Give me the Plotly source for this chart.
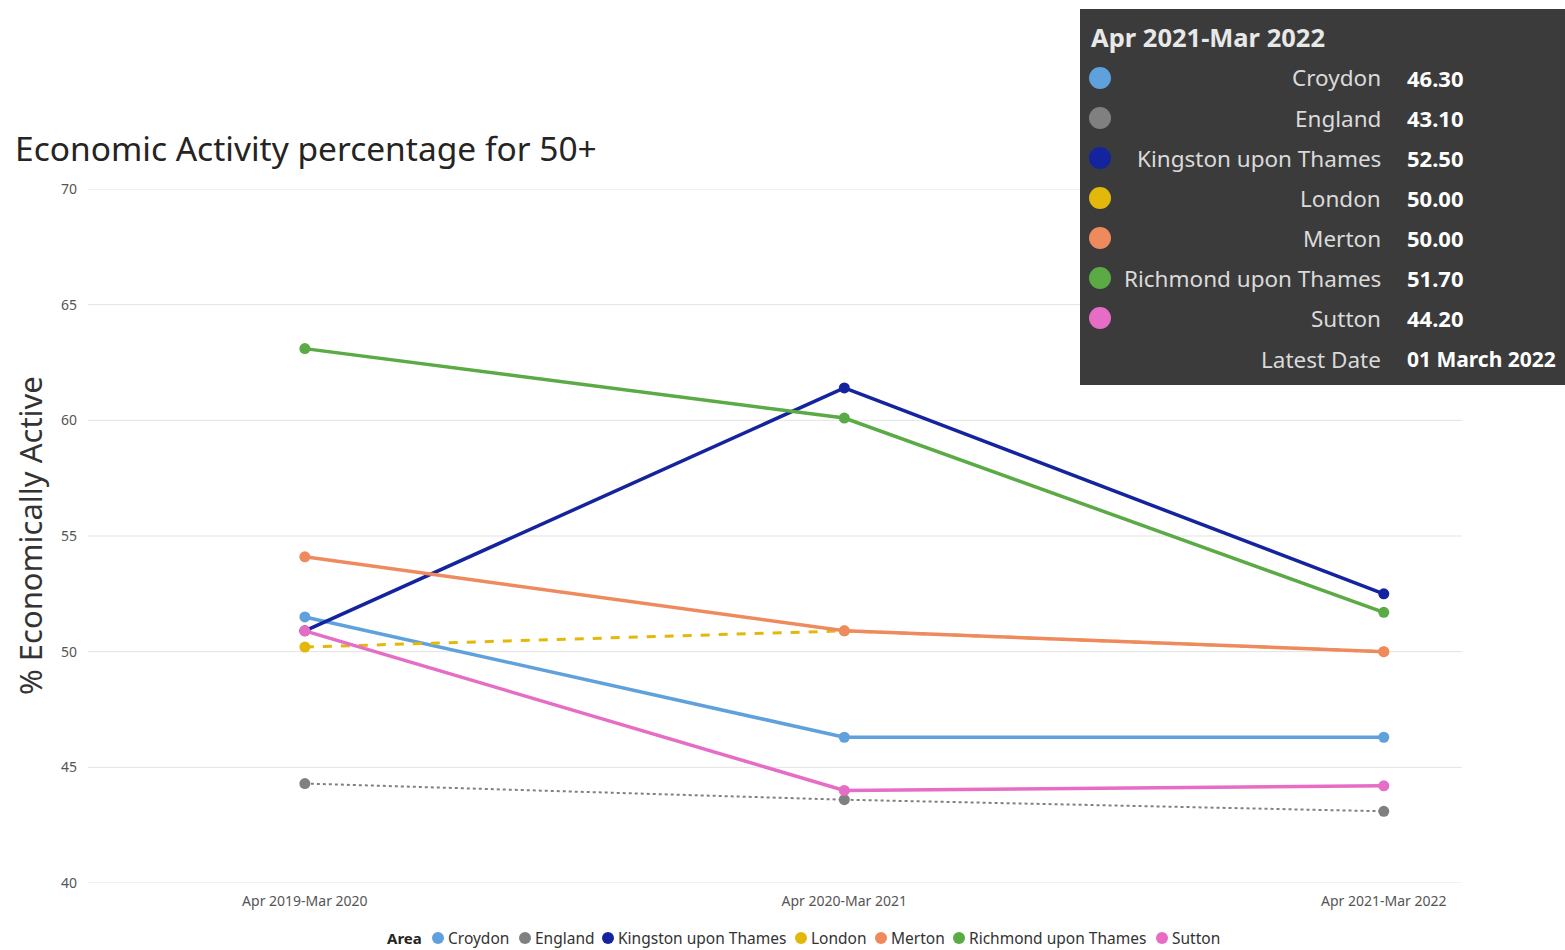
import plotly.graph_objects as go

# ---- data -------------------------------------------------------------
periods = ["Apr 2019-Mar 2020", "Apr 2020-Mar 2021", "Apr 2021-Mar 2022"]
areas = ["Croydon", "England", "Kingston upon Thames", "London",
         "Merton", "Richmond upon Thames", "Sutton"]
croydon = [51.5, 46.3, 46.3]
england = [44.3, 43.6, 43.1]
kingston = [50.9, 61.4, 52.5]
london = [50.2, 50.9, 50.0]
merton = [54.1, 50.9, 50.0]
richmond = [63.1, 60.1, 51.7]
sutton = [50.9, 44.0, 44.2]
latest_date = "01 March 2022"
y_ticks = [40, 45, 50, 55, 60, 65, 70]

series = [croydon, england, kingston, london, merton, richmond, sutton]

# ---- styling ----------------------------------------------------------
colors = ["#5FA1DC", "#808080", "#14239E", "#E2B80B",
          "#EF8A5E", "#5AAA45", "#E66CC6"]
dashes = ["solid", "dot", "solid", "dash", "solid", "solid", "solid"]
widths = [3.5, 2, 3.5, 3, 3.5, 3.5, 3.5]
FONT = "Segoe UI, Noto Sans, sans-serif"

W, H = 1565, 950
L, R, T, B = 88, 1462, 189, 883   # plot area in pixels


def px_x(px):
    return (px - L) / (R - L)


def px_y(py):
    return (B - py) / (B - T)


fig = go.Figure()
for name, vals, col, dsh, wd in zip(areas, series, colors, dashes, widths):
    fig.add_trace(go.Scatter(
        x=periods, y=vals, name=name, mode="lines+markers",
        line=dict(color=col, width=wd, dash=dsh),
        marker=dict(color=col, size=11),
        showlegend=False,
    ))

shapes = []
annotations = []

# horizontal gridlines at each y tick (including both ends of the range)
for v in y_ticks:
    shapes.append(dict(
        type="line", xref="paper", yref="y", x0=0, x1=1, y0=v, y1=v,
        line=dict(color="#E3E3E3", width=1), layer="below"))

# chart title
annotations.append(dict(
    text="Economic Activity percentage for 50+", xref="paper", yref="paper",
    x=px_x(13), y=px_y(148), xanchor="left", yanchor="middle",
    showarrow=False, font=dict(family=FONT, size=33.5, color="#252423")))

# y-axis title
annotations.append(dict(
    text="% Economically Active", xref="paper", yref="paper",
    x=px_x(30), y=px_y(536), xanchor="center", yanchor="middle",
    textangle=-90, showarrow=False,
    font=dict(family=FONT, size=31, color="#333333")))

# bottom legend
LEG_Y = 938
annotations.append(dict(
    text="<b>Area</b>", xref="paper", yref="paper",
    x=px_x(385), y=px_y(LEG_Y), xanchor="left", yanchor="middle",
    showarrow=False, font=dict(family=FONT, size=15, color="#252423")))
legend_x = [438, 525, 608, 801, 881, 959, 1162]
for name, col, lx in zip(areas, colors, legend_x):
    shapes.append(dict(
        type="circle", xref="paper", yref="paper",
        xsizemode="pixel", ysizemode="pixel",
        xanchor=px_x(lx), yanchor=px_y(LEG_Y),
        x0=-6, x1=6, y0=-6, y1=6,
        fillcolor=col, line=dict(width=0)))
    annotations.append(dict(
        text=name, xref="paper", yref="paper",
        x=px_x(lx + 8), y=px_y(LEG_Y), xanchor="left", yanchor="middle",
        showarrow=False, font=dict(family=FONT, size=15.5, color="#333333")))

# hover card for the latest period
shapes.append(dict(
    type="rect", xref="paper", yref="paper",
    x0=px_x(1080), x1=px_x(1565), y0=px_y(385), y1=px_y(9),
    fillcolor="#3B3B3B", line=dict(width=0), layer="above"))
annotations.append(dict(
    text="<b>" + periods[-1] + "</b>", xref="paper", yref="paper",
    x=px_x(1089), y=px_y(37), xanchor="left", yanchor="middle",
    showarrow=False, font=dict(family=FONT, size=25.5, color="#E8E8E8")))
row_y = [78, 118, 158, 198, 238, 278, 318]
for name, vals, col, ry in zip(areas, series, colors, row_y):
    shapes.append(dict(
        type="circle", xref="paper", yref="paper",
        xsizemode="pixel", ysizemode="pixel",
        xanchor=px_x(1100), yanchor=px_y(ry),
        x0=-11, x1=11, y0=-11, y1=11,
        fillcolor=col, line=dict(width=0), layer="above"))
    annotations.append(dict(
        text=name, xref="paper", yref="paper",
        x=px_x(1383), y=px_y(ry), xanchor="right", yanchor="middle",
        showarrow=False, font=dict(family=FONT, size=22.5, color="#DADADA")))
    annotations.append(dict(
        text="<b>%.2f</b>" % vals[-1], xref="paper", yref="paper",
        x=px_x(1405), y=px_y(ry), xanchor="left", yanchor="middle",
        showarrow=False, font=dict(family=FONT, size=22, color="#FFFFFF")))
annotations.append(dict(
    text="Latest Date", xref="paper", yref="paper",
    x=px_x(1383), y=px_y(359), xanchor="right", yanchor="middle",
    showarrow=False, font=dict(family=FONT, size=22.5, color="#DADADA")))
annotations.append(dict(
    text="<b>" + latest_date + "</b>", xref="paper", yref="paper",
    x=px_x(1405), y=px_y(359), xanchor="left", yanchor="middle",
    showarrow=False, font=dict(family=FONT, size=21, color="#FFFFFF")))

fig.update_layout(
    width=W, height=H, autosize=False,
    margin=dict(l=L, r=W - R, t=T, b=H - B, pad=0),
    paper_bgcolor="white", plot_bgcolor="white",
    shapes=shapes, annotations=annotations,
    font=dict(family=FONT),
)
fig.update_xaxes(
    type="category", range=[-0.402, 2.145],
    showgrid=False, showline=False, zeroline=False, ticks="",
    ticklabelstandoff=8,
    tickfont=dict(family=FONT, size=14, color="#555555"),
)
fig.update_yaxes(
    range=[40, 70], tickvals=y_ticks, ticktext=[str(v) for v in y_ticks],
    showgrid=False, showline=False, zeroline=False, ticks="",
    ticklabelstandoff=10,
    tickfont=dict(family=FONT, size=14, color="#555555"),
)

fig.write_html("out.html")
